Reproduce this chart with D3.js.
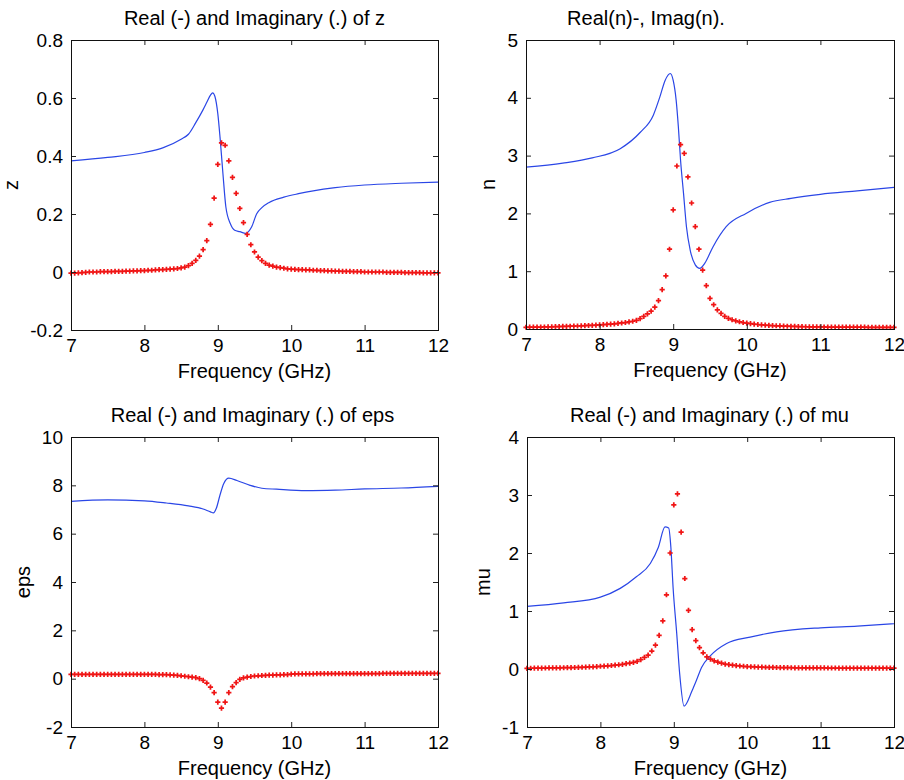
<!DOCTYPE html>
<html>
<head>
<meta charset="utf-8">
<script src="https://cdn.jsdelivr.net/npm/d3@7"></script>
<style>
  body { margin: 0; background: #fff; }
  svg { display: block; font-family: "Liberation Sans", Arial, sans-serif; }
</style>
</head>
<body>
<svg id="chart" width="904" height="780"></svg>
<script>
// Frequency grid of the imaginary parts (GHz)
const freq = [
  7.00, 7.05, 7.10, 7.15, 7.20, 7.25, 7.30, 7.35, 7.40, 7.45,
  7.50, 7.55, 7.60, 7.65, 7.70, 7.75, 7.80, 7.85, 7.90, 7.95,
  8.00, 8.05, 8.10, 8.15, 8.20, 8.25, 8.30, 8.35, 8.40, 8.45,
  8.50, 8.55, 8.60, 8.65, 8.70, 8.75, 8.80, 8.85, 8.90, 8.95,
  9.00, 9.05, 9.10, 9.15, 9.20, 9.25, 9.30, 9.35, 9.40, 9.45,
  9.50, 9.55, 9.60, 9.65, 9.70, 9.75, 9.80, 9.85, 9.90, 9.95,
  10.00, 10.05, 10.10, 10.15, 10.20, 10.25, 10.30, 10.35, 10.40, 10.45,
  10.50, 10.55, 10.60, 10.65, 10.70, 10.75, 10.80, 10.85, 10.90, 10.95,
  11.00, 11.05, 11.10, 11.15, 11.20, 11.25, 11.30, 11.35, 11.40, 11.45,
  11.50, 11.55, 11.60, 11.65, 11.70, 11.75, 11.80, 11.85, 11.90, 11.95,
  12.00
];

// Imaginary parts (red dots)
const zIm = [
  -0.004, -0.004, -0.003, -0.002, -0.001, 0.000, 0.000, 0.000, 0.001, 0.001,
  0.001, 0.001, 0.002, 0.002, 0.002, 0.003, 0.003, 0.004, 0.004, 0.005,
  0.005, 0.006, 0.006, 0.007, 0.008, 0.008, 0.009, 0.010, 0.011, 0.012,
  0.014, 0.017, 0.022, 0.030, 0.040, 0.055, 0.077, 0.108, 0.164, 0.255,
  0.371, 0.445, 0.437, 0.383, 0.326, 0.271, 0.219, 0.170, 0.130, 0.094,
  0.069, 0.051, 0.039, 0.030, 0.024, 0.020, 0.017, 0.015, 0.013, 0.011,
  0.010, 0.009, 0.008, 0.008, 0.007, 0.007, 0.006, 0.006, 0.005, 0.005,
  0.004, 0.004, 0.003, 0.003, 0.002, 0.002, 0.002, 0.001, 0.001, 0.001,
  0.000, 0.000, 0.000, 0.000, 0.000, 0.000, -0.001, -0.001, -0.001, -0.001,
  -0.001, -0.002, -0.002, -0.002, -0.002, -0.002, -0.003, -0.003, -0.003, -0.003,
  -0.003
];
const nIm = [
  0.030, 0.031, 0.032, 0.033, 0.034, 0.035, 0.036, 0.038, 0.040, 0.042,
  0.044, 0.046, 0.048, 0.050, 0.052, 0.055, 0.058, 0.061, 0.064, 0.067,
  0.071, 0.075, 0.080, 0.085, 0.090, 0.097, 0.104, 0.112, 0.122, 0.134,
  0.150, 0.180, 0.220, 0.260, 0.310, 0.380, 0.490, 0.680, 0.920, 1.380,
  2.060, 2.820, 3.190, 3.040, 2.630, 2.180, 1.770, 1.380, 1.020, 0.750,
  0.530, 0.420, 0.330, 0.270, 0.220, 0.185, 0.160, 0.140, 0.125, 0.112,
  0.100, 0.092, 0.085, 0.078, 0.072, 0.067, 0.063, 0.059, 0.056, 0.053,
  0.050, 0.048, 0.046, 0.044, 0.042, 0.040, 0.039, 0.038, 0.037, 0.036,
  0.035, 0.035, 0.034, 0.034, 0.033, 0.033, 0.033, 0.032, 0.032, 0.032,
  0.031, 0.031, 0.031, 0.030, 0.030, 0.030, 0.030, 0.029, 0.029, 0.029,
  0.029
];
const epsIm = [
  0.18, 0.18, 0.18, 0.18, 0.18, 0.18, 0.18, 0.18, 0.18, 0.18,
  0.18, 0.18, 0.18, 0.18, 0.18, 0.18, 0.18, 0.18, 0.18, 0.18,
  0.18, 0.18, 0.18, 0.18, 0.17, 0.17, 0.17, 0.16, 0.15, 0.14,
  0.12, 0.10, 0.08, 0.06, 0.04, 0.00, -0.07, -0.18, -0.35, -0.58,
  -0.97, -1.22, -0.97, -0.58, -0.33, -0.16, -0.03, 0.03, 0.06, 0.09,
  0.11, 0.12, 0.13, 0.14, 0.15, 0.15, 0.16, 0.16, 0.17, 0.17,
  0.19, 0.20, 0.20, 0.20, 0.20, 0.20, 0.20, 0.21, 0.21, 0.21,
  0.21, 0.21, 0.21, 0.21, 0.21, 0.21, 0.21, 0.21, 0.21, 0.21,
  0.21, 0.21, 0.21, 0.21, 0.21, 0.22, 0.22, 0.22, 0.22, 0.22,
  0.22, 0.22, 0.22, 0.22, 0.22, 0.22, 0.22, 0.22, 0.22, 0.22,
  0.22
];
const muIm = [
  0.012, 0.013, 0.014, 0.015, 0.016, 0.017, 0.018, 0.019, 0.020, 0.021,
  0.022, 0.023, 0.024, 0.026, 0.028, 0.030, 0.032, 0.035, 0.038, 0.042,
  0.047, 0.051, 0.055, 0.060, 0.066, 0.073, 0.081, 0.091, 0.102, 0.115,
  0.130, 0.160, 0.200, 0.240, 0.310, 0.410, 0.580, 0.830, 1.280, 2.000,
  2.830, 3.020, 2.360, 1.560, 1.010, 0.680, 0.490, 0.370, 0.280, 0.210,
  0.170, 0.140, 0.120, 0.100, 0.085, 0.075, 0.066, 0.058, 0.052, 0.047,
  0.042, 0.039, 0.036, 0.034, 0.032, 0.030, 0.028, 0.027, 0.026, 0.025,
  0.024, 0.023, 0.022, 0.021, 0.021, 0.020, 0.020, 0.019, 0.019, 0.018,
  0.018, 0.018, 0.017, 0.017, 0.017, 0.016, 0.016, 0.016, 0.016, 0.015,
  0.015, 0.015, 0.015, 0.015, 0.015, 0.015, 0.015, 0.015, 0.015, 0.015,
  0.015
];

// Real parts (blue lines), read at their own frequencies
const zReFreq = [7.0, 7.5, 8.0, 8.25, 8.5, 8.6, 8.7, 8.8, 8.85, 8.9, 8.93, 8.96, 9.0, 9.03, 9.07, 9.11, 9.17, 9.23, 9.3, 9.38, 9.46, 9.53, 9.6, 9.7, 9.9, 10.1, 10.3, 10.6, 11.0, 11.5, 12.0];
const zRe     = [0.383, 0.395, 0.412, 0.428, 0.458, 0.475, 0.515, 0.560, 0.585, 0.610, 0.618, 0.606, 0.546, 0.466, 0.339, 0.224, 0.167, 0.144, 0.139, 0.133, 0.155, 0.201, 0.222, 0.240, 0.258, 0.270, 0.280, 0.291, 0.300, 0.306, 0.310];

const nReFreq = [7.0, 7.5, 7.9, 8.28, 8.55, 8.73, 8.82, 8.89, 8.96, 9.0, 9.04, 9.07, 9.10, 9.14, 9.18, 9.23, 9.30, 9.36, 9.43, 9.54, 9.72, 9.99, 10.31, 10.6, 11.0, 11.5, 12.0];
const nRe     = [2.80, 2.87, 2.96, 3.12, 3.40, 3.70, 4.02, 4.30, 4.42, 4.30, 3.96, 3.50, 2.92, 2.35, 1.77, 1.37, 1.11, 1.05, 1.14, 1.42, 1.77, 2.00, 2.19, 2.26, 2.33, 2.39, 2.45];

const epsReFreq = [7.0, 7.5, 8.0, 8.3, 8.6, 8.8, 8.9, 8.94, 8.98, 9.03, 9.08, 9.15, 9.26, 9.44, 9.6, 9.8, 10.2, 10.6, 11.0, 11.5, 12.0];
const epsRe     = [7.34, 7.40, 7.36, 7.27, 7.15, 7.02, 6.90, 6.86, 7.05, 7.60, 8.07, 8.30, 8.20, 8.00, 7.88, 7.84, 7.78, 7.80, 7.85, 7.89, 7.96];

const muReFreq = [7.0, 7.5, 8.0, 8.27, 8.49, 8.68, 8.79, 8.88, 8.93, 8.96, 8.99, 9.04, 9.08, 9.14, 9.25, 9.31, 9.38, 9.5, 9.72, 10.04, 10.4, 11.0, 11.5, 12.0];
const muRe     = [1.08, 1.14, 1.24, 1.39, 1.59, 1.82, 2.10, 2.45, 2.43, 2.10, 1.41, 0.61, -0.08, -0.64, -0.37, -0.19, 0.03, 0.23, 0.44, 0.55, 0.64, 0.71, 0.74, 0.78];

// Axis ticks
const xTicks = [7, 8, 9, 10, 11, 12];
const zTicks = [-0.2, 0, 0.2, 0.4, 0.6, 0.8];
const nTicks = [0, 1, 2, 3, 4, 5];
const epsTicks = [-2, 0, 2, 4, 6, 8, 10];
const muTicks = [-1, 0, 1, 2, 3, 4];

const titles = [
  "Real (-) and Imaginary (.) of z",
  "Real(n)-, Imag(n).",
  "Real (-) and Imaginary (.) of eps",
  "Real (-) and Imaginary (.) of mu"
];
const yLabels = ["z", "n", "eps", "mu"];

const LINE_COLOR = "#2a46e6";
const DOT_COLOR = "#f01515";
const TICK_LEN = 5;

const panels = [
  { left: 71,  top: 40,  width: 367, height: 290, domain: [-0.2, 0.8], ticks: zTicks,   reF: zReFreq,   re: zRe,   im: zIm,   titleDx: 0 },
  { left: 526, top: 40,  width: 368, height: 289, domain: [0, 5],      ticks: nTicks,   reF: nReFreq,   re: nRe,   im: nIm,   titleDx: -64 },
  { left: 71,  top: 437, width: 367, height: 290, domain: [-2, 10],    ticks: epsTicks, reF: epsReFreq, re: epsRe, im: epsIm, titleDx: -2 },
  { left: 527, top: 437, width: 367, height: 290, domain: [-1, 4],     ticks: muTicks,  reF: muReFreq,  re: muRe,  im: muIm,  titleDx: -1 }
];

const svg = d3.select("#chart");

function drawPanel(p, i) {
  const g = svg.append("g").attr("transform", `translate(${p.left},${p.top})`);

  const x = d3.scaleLinear().domain([7, 12]).range([0, p.width]);
  const y = d3.scaleLinear().domain(p.domain).range([p.height, 0]);

  // Real part
  const line = d3.line()
    .x(d => x(d[0]))
    .y(d => y(d[1]))
    .curve(d3.curveMonotoneX);

  g.append("path")
    .datum(d3.zip(p.reF, p.re))
    .attr("fill", "none")
    .attr("stroke", LINE_COLOR)
    .attr("stroke-width", 1.2)
    .attr("d", line);

  // Imaginary part
  const marker = d3.symbol().type(d3.symbolCross).size(15);
  g.selectAll(".dot")
    .data(d3.zip(freq, p.im))
    .join("path")
    .attr("class", "dot")
    .attr("transform", d => `translate(${x(d[0])},${y(d[1])})`)
    .attr("d", marker)
    .attr("fill", DOT_COLOR);

  // Axes: ticks pointing inward on all four sides
  const fmt = d => String(d);
  const bottom = g.append("g")
    .attr("transform", `translate(0,${p.height})`)
    .call(d3.axisBottom(x).tickValues(xTicks).tickSize(-TICK_LEN).tickPadding(9).tickFormat(fmt));
  const left = g.append("g")
    .call(d3.axisLeft(y).tickValues(p.ticks).tickSize(-TICK_LEN).tickPadding(8).tickFormat(fmt));
  g.append("g")
    .call(d3.axisTop(x).tickValues(xTicks).tickSize(-TICK_LEN).tickFormat(""));
  g.append("g")
    .attr("transform", `translate(${p.width},0)`)
    .call(d3.axisRight(y).tickValues(p.ticks).tickSize(-TICK_LEN).tickFormat(""));

  g.selectAll(".domain").remove();
  g.selectAll(".tick line").attr("stroke", "#222");
  [bottom, left].forEach(a => a
    .attr("font-family", null)
    .attr("font-size", 19)
    .selectAll("text").attr("fill", "#000"));

  g.append("rect")
    .attr("width", p.width)
    .attr("height", p.height)
    .attr("fill", "none")
    .attr("stroke", "#111")
    .attr("stroke-width", 1)
    .attr("shape-rendering", "crispEdges");

  // Title
  g.append("text")
    .attr("x", p.width / 2 + p.titleDx)
    .attr("y", -15)
    .attr("text-anchor", "middle")
    .attr("font-size", 20)
    .text(titles[i]);

  // X label
  g.append("text")
    .attr("x", p.width / 2)
    .attr("y", p.height + 48)
    .attr("text-anchor", "middle")
    .attr("font-size", 20)
    .text("Frequency (GHz)");

  // Y label sits just left of the widest tick label
  const bx = left.node().getBBox().x - 12;
  g.append("text")
    .attr("transform", `translate(${bx},${p.height / 2}) rotate(-90)`)
    .attr("text-anchor", "middle")
    .attr("font-size", 20)
    .text(yLabels[i]);
}

panels.forEach(drawPanel);
</script>
</body>
</html>
